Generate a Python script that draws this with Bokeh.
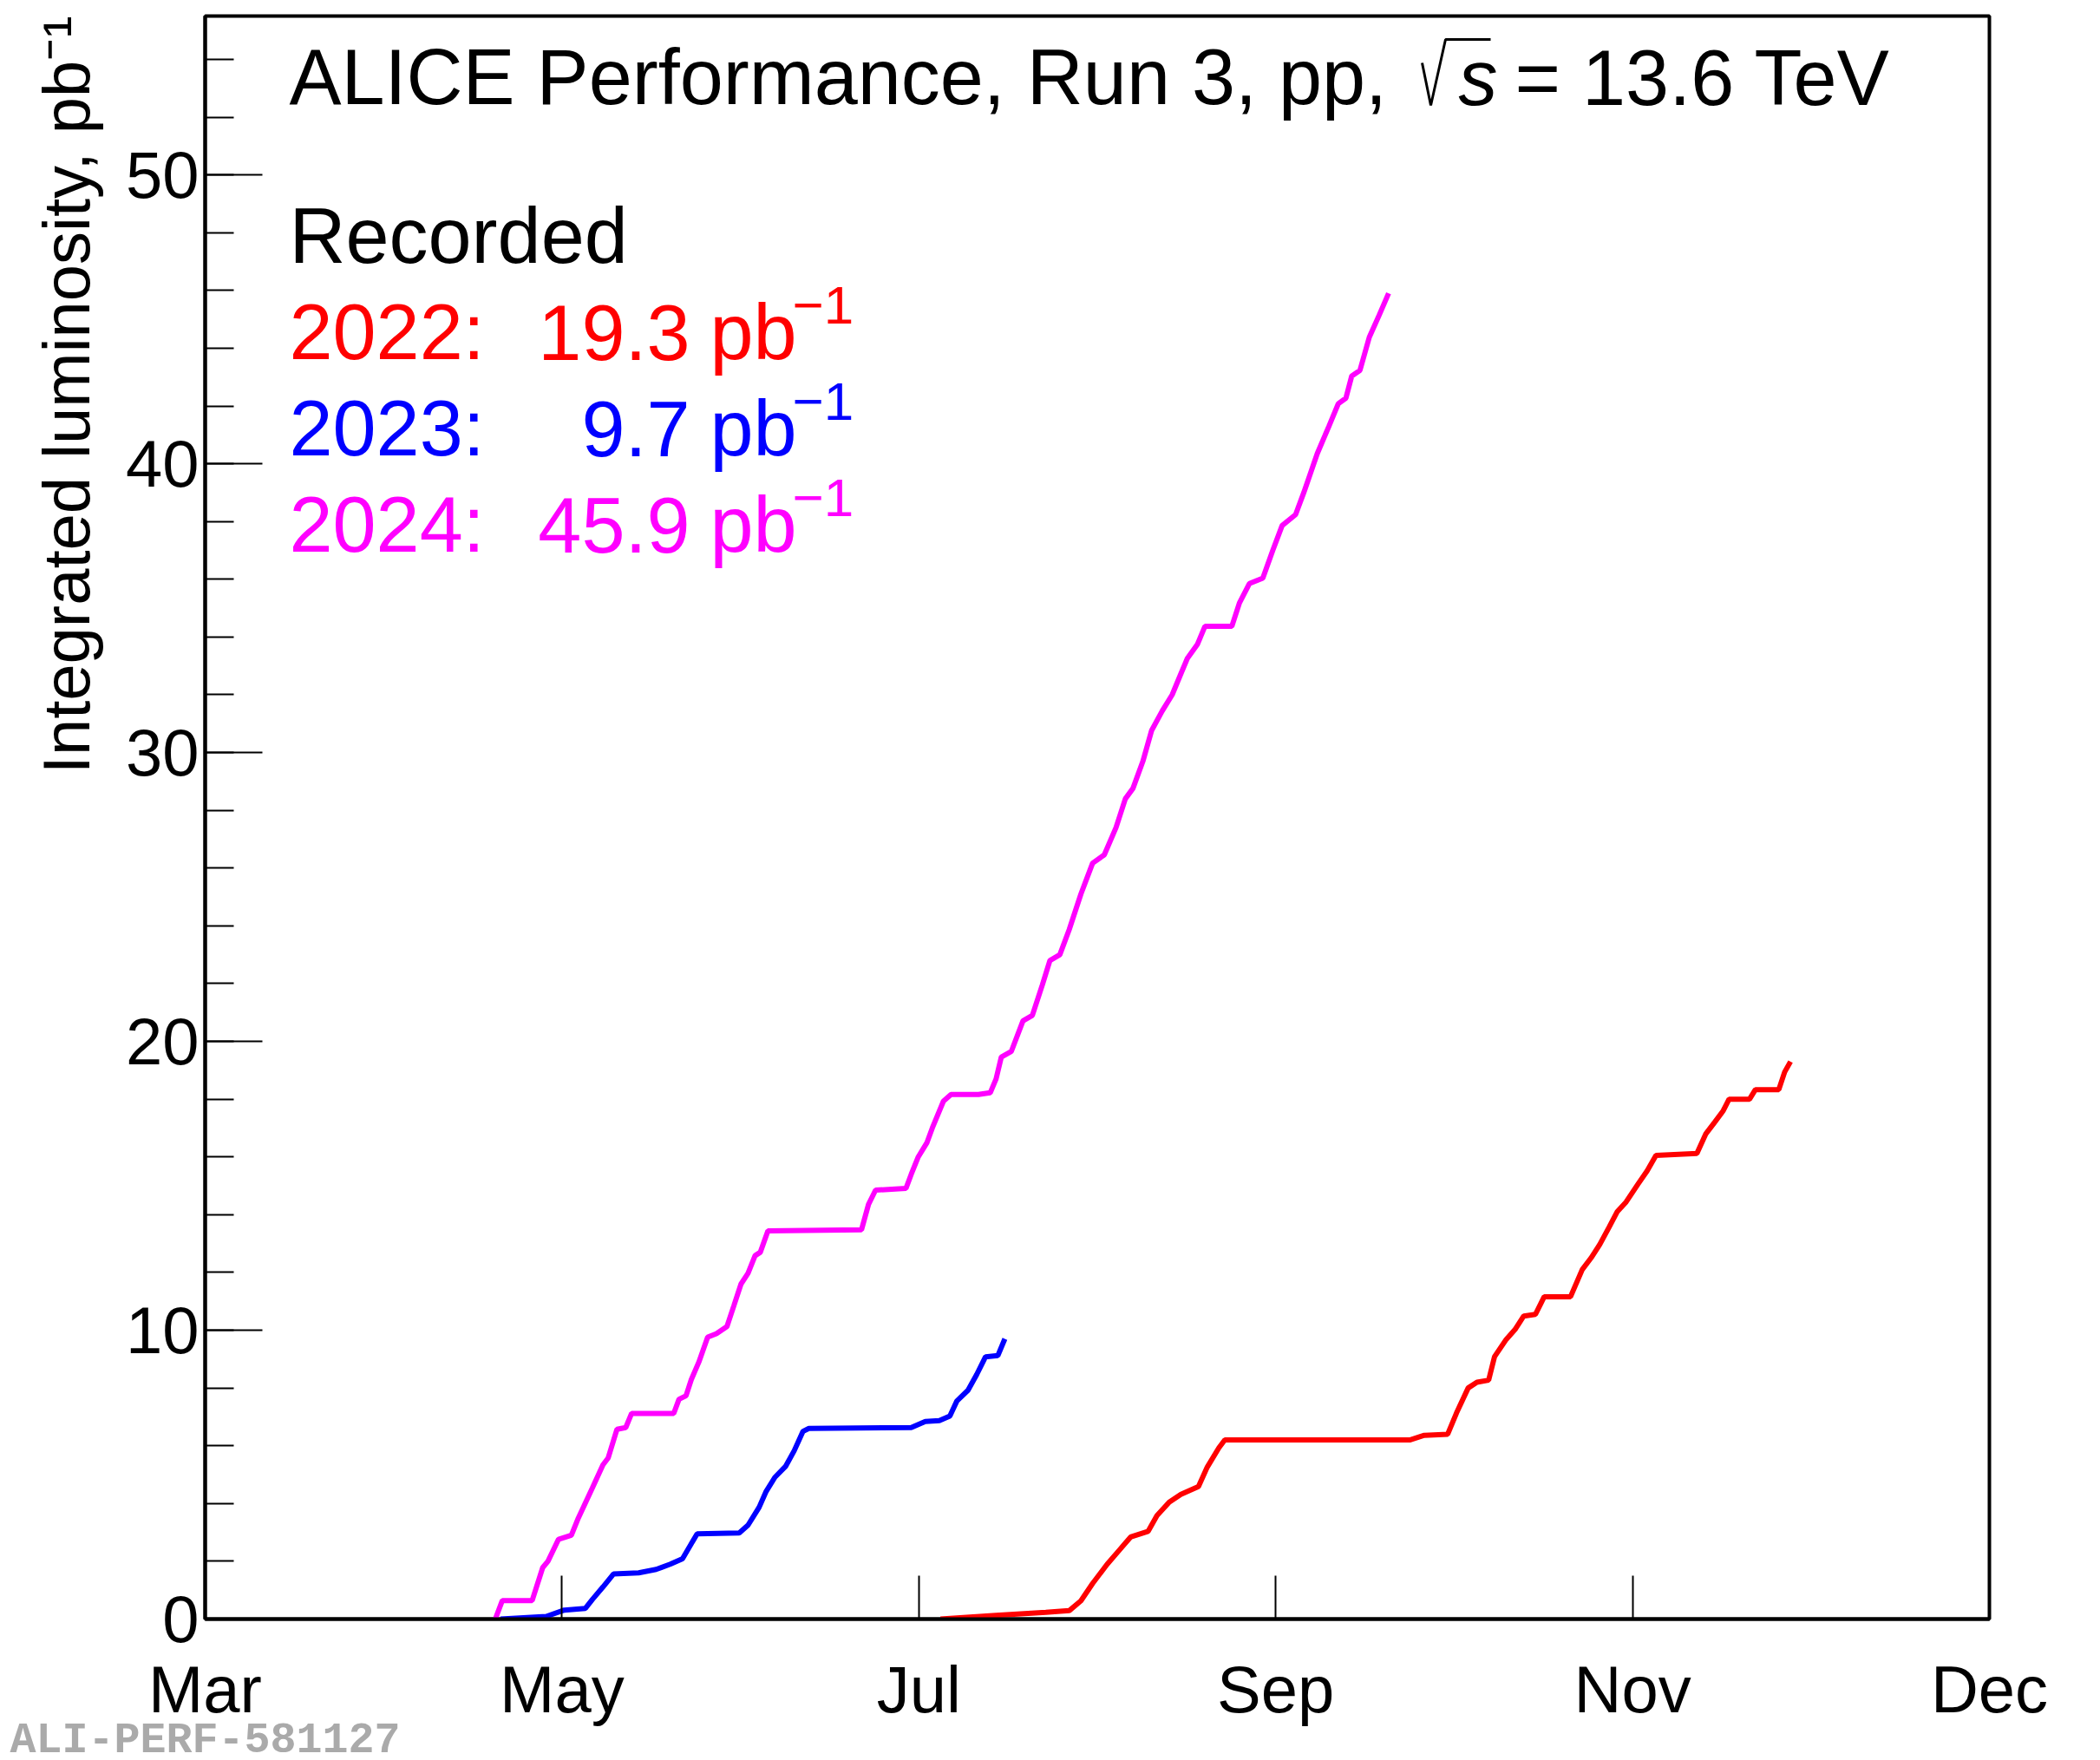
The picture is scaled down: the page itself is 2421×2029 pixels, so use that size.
from bokeh.plotting import figure
from bokeh.models import Range1d, Label, Title, FixedTicker
from bokeh.embed import file_html
from bokeh.resources import INLINE

# x values are days counted from 1 March, y values in pb^-1
days_2022 = [125.7, 135.2, 143.7, 147.7, 149.7, 151.7, 154.2, 156.2, 158.2, 161.2,
             162.7, 164.8, 166.8, 169.8, 171.3, 173.3, 174.3, 205.9, 208.4, 212.4,
             213.9, 215.9, 217.4, 219.4, 220.4, 222.4, 223.9, 225.4, 227.4, 228.9,
             233.4, 235.4, 236.9, 238.4, 240.0, 241.4, 242.9, 244.9, 246.5, 248.0,
             255.0, 256.5, 258.0, 259.5, 260.5, 264.0, 265.0, 269.0, 270.0, 271.0]
lumi_2022 = [0.0, 0.13, 0.23, 0.29, 0.63, 1.23, 1.9, 2.37, 2.84, 3.04,
             3.58, 4.05, 4.32, 4.59, 5.26, 5.93, 6.2, 6.2, 6.36, 6.4,
             7.13, 8.0, 8.2, 8.27, 9.08, 9.68, 10.02, 10.49, 10.55, 11.16,
             11.16, 12.1, 12.5, 12.97, 13.57, 14.11, 14.44, 15.05, 15.52, 16.05,
             16.12, 16.79, 17.19, 17.6, 18.0, 18.0, 18.33, 18.33, 18.94, 19.3]

days_2023 = [50.5, 58.3, 61.4, 65.0, 66.2, 68.0, 69.8, 74.1, 77.1, 79.5,
             81.6, 83.2, 84.1, 91.3, 92.8, 94.7, 95.9, 97.4, 99.2, 100.7,
             102.2, 103.2, 120.7, 123.1, 125.5, 127.3, 128.5, 130.4, 131.9, 133.4,
             135.5, 136.7]
lumi_2023 = [0.0, 0.09, 0.31, 0.37, 0.68, 1.11, 1.56, 1.6, 1.72, 1.9,
             2.09, 2.64, 2.95, 2.98, 3.25, 3.87, 4.42, 4.91, 5.28, 5.83,
             6.5, 6.6, 6.63, 6.84, 6.87, 7.03, 7.55, 7.92, 8.47, 9.08,
             9.12, 9.7]

days_2024 = [49.6, 50.8, 55.9, 57.7, 58.6, 60.4, 62.6, 63.8, 66.2, 68.0,
             68.9, 70.4, 71.9, 72.9, 80.1, 81.0, 82.2, 83.1, 84.4, 85.9,
             87.4, 89.2, 90.4, 91.6, 92.8, 94.0, 94.9, 96.2, 112.2, 113.4,
             114.6, 119.8, 120.7, 121.9, 123.4, 124.3, 126.2, 127.5, 132.2, 134.2,
             135.2, 136.1, 137.8, 139.8, 141.4, 143.1, 144.4, 146.1, 147.7, 149.7,
             151.7, 153.7, 155.7, 157.3, 158.6, 160.3, 161.8, 163.6, 165.3, 166.9,
             167.9, 169.6, 170.9, 175.5, 176.8, 178.5, 180.8, 182.5, 184.1, 186.4,
             187.8, 190.1, 192.1, 193.7, 195.0, 196.0, 197.4, 199.0, 200.7, 202.3]
lumi_2024 = [0.0, 0.64, 0.64, 1.78, 2.0, 2.76, 2.9, 3.5, 4.54, 5.34,
             5.58, 6.57, 6.63, 7.12, 7.12, 7.61, 7.73, 8.29, 8.9, 9.76,
             9.88, 10.13, 10.86, 11.6, 11.97, 12.58, 12.7, 13.44, 13.48, 14.36,
             14.85, 14.91, 15.4, 16.0, 16.5, 17.0, 17.93, 18.16, 18.16, 18.22,
             18.7, 19.46, 19.65, 20.71, 20.9, 21.95, 22.8, 23.0, 23.87, 25.1,
             26.17, 26.46, 27.4, 28.4, 28.76, 29.7, 30.77, 31.44, 32.0, 32.78,
             33.26, 33.74, 34.37, 34.37, 35.18, 35.85, 36.04, 37.0, 37.86, 38.24,
             39.0, 40.35, 41.3, 42.08, 42.27, 43.04, 43.23, 44.38, 45.15, 45.9]

years = ["2022", "2023", "2024"]
totals = ["19.3", "9.7", "45.9"]

tick_days = [0, 61, 122, 183, 244, 305]
tick_names = ["Mar", "May", "Jul", "Sep", "Nov", "Dec"]
y_ticks = [0, 10, 20, 30, 40, 50]

XMAX = 305
YMAX = 55.5

colors = ["#ff0000", "#0000ff", "#ff00ff"]
FONT = "Liberation Sans"

# canvas layout (pixels)
W, H = 2405, 2021
LEFT, TOP = 236, 18
FW, FH = 2057, 1848


def dx(px):
    # canvas pixel -> data x
    return (px - LEFT) / FW * XMAX


def dy(py):
    # canvas pixel -> data y
    return (TOP + FH - py) / FH * YMAX


p = figure(width=W, height=H, x_range=Range1d(0, XMAX), y_range=Range1d(0, YMAX),
           output_backend="svg", toolbar_location=None, tools="")
p.min_border_left = LEFT
p.min_border_top = TOP
p.min_border_right = W - LEFT - FW
p.min_border_bottom = H - TOP - FH
p.background_fill_color = "white"
p.border_fill_color = "white"
p.outline_line_color = "black"
p.outline_line_width = 4
p.grid.visible = False

p.xaxis.ticker = FixedTicker(ticks=tick_days, minor_ticks=[])
p.xaxis.major_label_overrides = dict(zip(tick_days, tick_names))
p.yaxis.ticker = FixedTicker(ticks=y_ticks, minor_ticks=list(range(0, 56, 2)))

p.axis.axis_line_width = 4
p.axis.major_tick_line_width = 2
p.axis.minor_tick_line_width = 2
p.axis.major_tick_out = 0
p.axis.minor_tick_out = 0
p.axis.major_label_text_font = FONT
p.axis.major_label_text_font_size = "76px"
p.axis.major_label_text_color = "black"
p.xaxis.major_tick_in = 50
p.xaxis.major_label_standoff = 38
p.yaxis.major_tick_in = 66
p.yaxis.minor_tick_in = 33
p.yaxis.major_label_standoff = 7

for d, l, c in zip([days_2022, days_2023, days_2024],
                   [lumi_2022, lumi_2023, lumi_2024], colors):
    p.line(d, l, line_color=c, line_width=6)


def add_text(px, py, text, size, color="black", **kw):
    # py is the wanted baseline; the label anchor sits about a third of an em higher
    p.add_layout(Label(x=dx(px), y=dy(py - 0.345 * size), text=text, text_font=FONT,
                       text_font_size="%dpx" % size, text_color=color,
                       text_baseline="alphabetic", **kw))


# header
add_text(333, 120, "ALICE Performance, Run 3, pp,", 90)
root_x = [dx(v) for v in (1639, 1649, 1666, 1718)]
root_y = [dy(v) for v in (72, 121, 45, 45)]
p.line(root_x, root_y, line_color="black", line_width=3)
add_text(1681, 121, "s", 90, text_font_style="italic")
add_text(1746, 121, "= 13.6 TeV", 90)

# legend
add_text(333, 303, "Recorded", 90)
for i, (yr, tot, c) in enumerate(zip(years, totals, colors)):
    base = 414 + i * 111
    add_text(333, base, yr + ":", 90, c)
    add_text(795, base, tot, 90, c, text_align="right")
    add_text(818, base, "pb", 90, c)
    add_text(913, base - 41, "\u22121", 62, c)

# y axis title
p.add_layout(Title(text="Integrated luminosity, pb\u207b\u00b9", align="right",
                   text_font=FONT, text_font_size="76px", text_font_style="normal",
                   text_color="black", standoff=45), "left")

# figure id
p.add_layout(Title(text="ALI-PERF-581127", align="left", offset=-225,
                   text_font="Liberation Mono", text_font_style="bold",
                   text_font_size="50px", text_color="#aaaaaa",
                   standoff=-33), "below")

open("out.html", "w").write(file_html(p, INLINE))
